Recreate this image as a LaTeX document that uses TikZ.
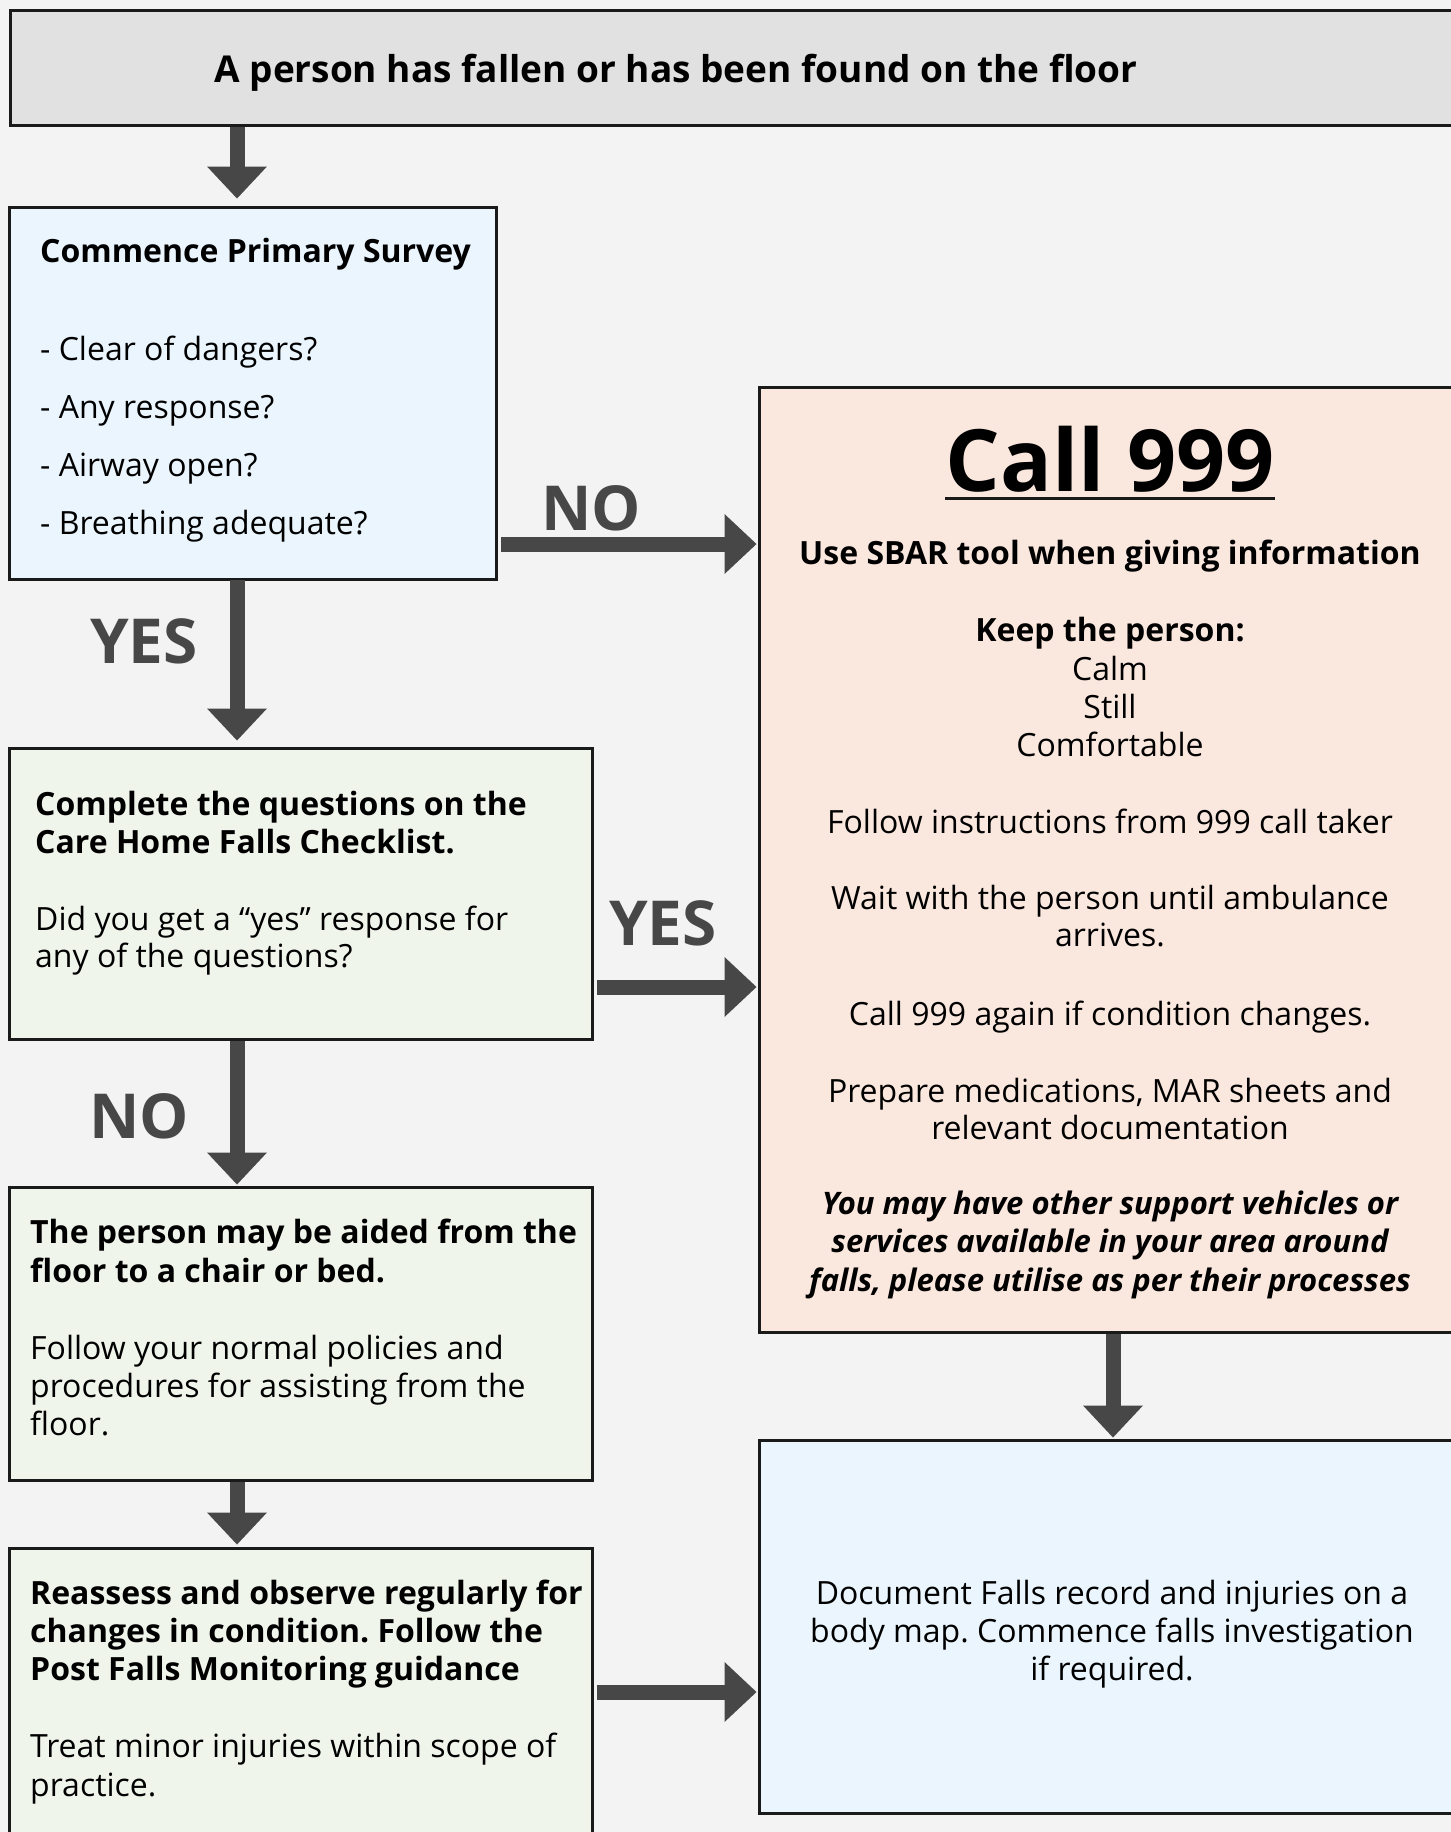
\documentclass[tikz,border=0pt]{standalone}
\usepackage{fontspec}
\setmainfont{Open Sans}
\usetikzlibrary{arrows.meta}
\frenchspacing
\definecolor{bgpaper}{HTML}{F3F3F3}
\definecolor{boxline}{HTML}{1A1A1A}
\definecolor{arrowgray}{HTML}{474747}
\definecolor{topfill}{HTML}{E1E1E1}
\definecolor{bluefill}{HTML}{EAF5FD}
\definecolor{greenfill}{HTML}{F0F5EC}
\definecolor{peachfill}{HTML}{FAE7DE}
\newcommand\ltxt[1]{\vtop{\halign{##\hfil\cr#1\crcr}}}
\newcommand\ctxt[1]{\vtop{\halign{\hfil##\hfil\cr#1\crcr}}}
\tikzset{
  box/.style={draw=boxline, line width=3pt, inner sep=0pt, rectangle},
  bigarrow/.style={draw=arrowgray, line width=15pt,
    -{Triangle[length=32pt,width=60pt,line width=0pt]}},
  lbl/.style={text=arrowgray, font=\fontsize{62}{70}\selectfont\bfseries, inner sep=0pt},
  bodyl/.style={anchor=base west, inner sep=0pt, font=\fontsize{32}{38}\selectfont},
  boldl/.style={anchor=base west, inner sep=0pt, font=\fontsize{32}{38}\selectfont\bfseries},
  bodyc/.style={anchor=base, inner sep=0pt, font=\fontsize{32}{38}\selectfont},
  boldc/.style={anchor=base, inner sep=0pt, font=\fontsize{32}{38}\selectfont\bfseries},
}
\begin{document}
\begin{tikzpicture}[x=1pt, y=-1pt]
\useasboundingbox (0,0) rectangle (1451,1832);
\fill[bgpaper] (0,0) rectangle (1451,1832);
\begin{scope}
\clip (0,0) rectangle (1451,1832);
% boxes
\node[box, fill=topfill, minimum width=1460pt, minimum height=115pt] (top) at (740,67.5) {};
\node[box, fill=bluefill, minimum width=487pt, minimum height=372pt] (survey) at (253.3,393) {};
\node[box, fill=greenfill, minimum width=583pt, minimum height=291pt] (check) at (300.5,893.5) {};
\node[box, fill=greenfill, minimum width=583pt, minimum height=293pt] (aided) at (300.5,1333.5) {};
\node[box, fill=greenfill, minimum width=583pt, minimum height=302pt] (reassess) at (300.5,1699) {};
\node[box, fill=peachfill, minimum width=711pt, minimum height=945pt] (call) at (1114.5,859.5) {};
\node[box, fill=bluefill, minimum width=711pt, minimum height=373pt] (doc) at (1114.5,1626.5) {};
\end{scope}

% columns
\coordinate (lc) at (237,0);
\coordinate (rc) at (1113,0);
\coordinate (ynoa) at (0,544);
\coordinate (yyesa) at (0,987);
\coordinate (ydoca) at (0,1692);

% arrows
\draw[bigarrow, shorten >=7pt] (top.south -| lc) -- (survey.north -| lc);
\draw[bigarrow, shorten >=6pt, shorten <=-1pt] (survey.south -| lc) -- (check.north -| lc);
\draw[bigarrow, shorten >=1pt] (check.south -| lc) -- (aided.north -| lc);
\draw[bigarrow, shorten >=2pt] (aided.south -| lc) -- (reassess.north -| lc);
\draw[bigarrow, shorten <=3pt, shorten >=1pt] (survey.east |- ynoa) -- (call.west |- ynoa);
\draw[bigarrow, shorten <=3pt, shorten >=1pt] (check.east |- yyesa) -- (call.west |- yyesa);
\draw[bigarrow, shorten >=1pt] (call.south -| rc) -- (doc.north -| rc);
\draw[bigarrow, shorten <=3pt, shorten >=1pt] (reassess.east |- ydoca) -- (doc.west |- ydoca);

% labels
\node[lbl] (lno1) at (591,508) {NO};
\node[lbl] (lyes1) at (144,641) {YES};
\node[lbl] (lyes2) at (663,923) {YES};
\node[lbl] (lno2) at (139,1116) {NO};

% texts
\node[anchor=base, inner sep=0pt, font=\fontsize{37}{42}\selectfont\bfseries] (ttop) at (676,82) {A person has fallen or has been found on the floor};

\node[boldl] (tsurv) at (40,262) {Commence Primary Survey};
\node[bodyl, font=\fontsize{32}{58}\selectfont] (tlist) at (40,360) {\ltxt{- Clear of dangers?\cr- Any response?\cr- Airway open?\cr- Breathing adequate?}};

\node[boldl] (tcheck1) at (35,815) {\ltxt{Complete the questions on the\cr Care Home Falls Checklist.}};
\node[bodyl, font=\fontsize{32}{37}\selectfont] (tcheck2) at (35,930) {\ltxt{Did you get a “yes” response for\cr any of the questions?}};

\node[boldl, font=\fontsize{32}{39}\selectfont\bfseries] (taided1) at (30,1243) {\ltxt{The person may be aided from the\cr floor to a chair or bed.}};
\node[bodyl] (taided2) at (30,1359) {\ltxt{Follow your normal policies and\cr procedures for assisting from the\cr floor.}};

\node[boldl] (treas1) at (30,1604) {\ltxt{Reassess and observe regularly for\cr changes in condition. Follow the\cr Post Falls Monitoring guidance}};
\node[bodyl, font=\fontsize{32}{39}\selectfont] (treas2) at (30,1757) {\ltxt{Treat minor injuries within scope of\cr practice.}};

\node[anchor=base, inner sep=0pt, font=\fontsize{86}{96}\selectfont\bfseries] (tcall) at (1110,491) {Call 999};
\draw[line width=3pt, boxline] ([yshift=-7pt]tcall.base west) -- ([yshift=-7pt]tcall.base east);
\node[boldc] (tsbar) at (1110,564) {Use SBAR tool when giving information};
\node[boldc] (tkeep) at (1110,641) {Keep the person:};
\node[bodyc] (tcalm) at (1110,680) {\ctxt{Calm\cr Still\cr Comfortable}};
\node[bodyc] (tfollow) at (1110,833) {Follow instructions from 999 call taker};
\node[bodyc, font=\fontsize{32}{37}\selectfont] (twait) at (1110,909) {\ctxt{Wait with the person until ambulance\cr arrives.}};
\node[bodyc] (tagain) at (1110,1025) {Call 999 again if condition changes.};
\node[bodyc, font=\fontsize{32}{37}\selectfont] (tprep) at (1110,1102) {\ctxt{Prepare medications, MAR sheets and\cr relevant documentation}};
\node[boldc, font=\fontsize{31}{38.5}\selectfont\bfseries\itshape] (tital) at (1110,1214) {\ctxt{You may have other support vehicles or\cr services available in your area around\cr falls, please utilise as per their processes}};

\node[bodyc] (tdoc) at (1112,1604) {\ctxt{Document Falls record and injuries on a\cr body map. Commence falls investigation\cr if required.}};
\end{tikzpicture}
\end{document}
